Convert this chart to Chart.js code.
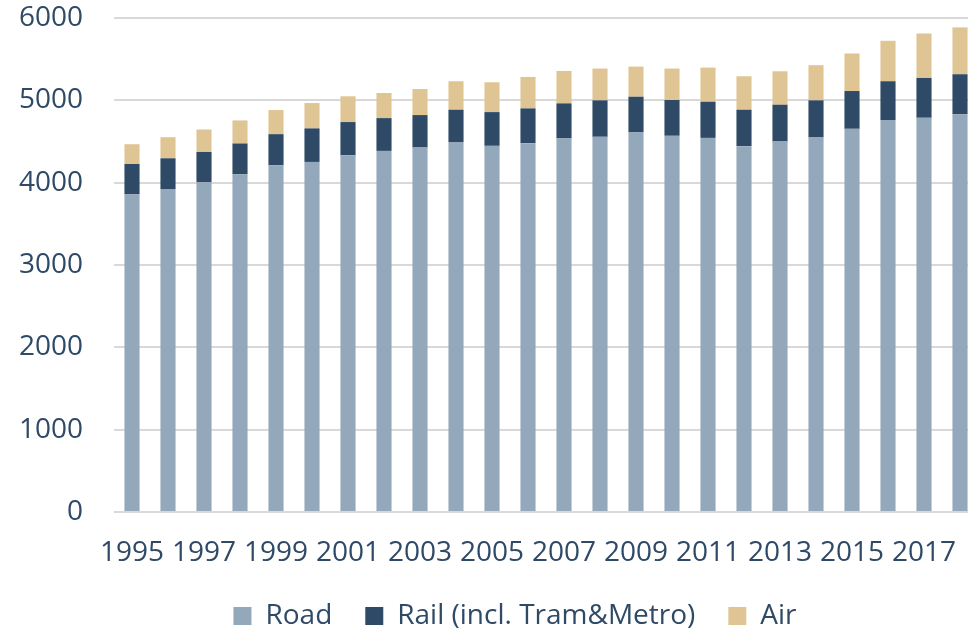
<!DOCTYPE html>
<html>
<head>
<meta charset="utf-8">
<script src="https://cdn.jsdelivr.net/npm/chart.js@4/dist/chart.umd.min.js"></script>
<style>
  html, body { margin: 0; padding: 0; background: #ffffff; overflow: hidden; }
  #wrap { width: 968px; height: 631px; overflow: hidden; position: relative; }
  #box { width: 1034px; height: 640px; position: absolute; left: 0; top: 0; }
</style>
</head>
<body>
<div id="wrap"><div id="box"><canvas id="c"></canvas></div></div>
<script>
const years = ['1995','1996','1997','1998','1999','2000','2001','2002','2003','2004','2005','2006','2007','2008','2009','2010','2011','2012','2013','2014','2015','2016','2017','2018'];
const road = [3857,3922,4004,4101,4211,4252,4333,4386,4427,4488,4447,4479,4537,4557,4610,4569,4544,4443,4500,4549,4654,4760,4788,4829];
const rail = [370,374,369,375,378,407,403,398,394,398,410,423,426,443,434,435,439,443,447,451,459,472,484,488];
const air  = [240,256,273,280,293,308,313,305,317,346,363,382,394,386,366,382,415,406,406,427,456,491,540,569];
const yTicks = [0,1000,2000,3000,4000,5000,6000];

const textColor = '#2f4a67';
const font = { family: '"Open Sans", sans-serif', size: 28 };

const shiftLegend = {
  id: 'shiftLegend',
  afterLayout(chart) {
    const lg = chart.legend;
    if (lg) { lg.left += 26; lg.right += 26; }
  }
};

new Chart(document.getElementById('c'), {
  type: 'bar',
  data: {
    labels: years,
    datasets: [
      { label: 'Road', data: road, backgroundColor: '#94a8bb' },
      { label: 'Rail (incl. Tram&Metro)', data: rail, backgroundColor: '#2e4a66' },
      { label: 'Air', data: air, backgroundColor: '#e0c594' }
    ]
  },
  plugins: [shiftLegend],
  options: {
    responsive: true,
    maintainAspectRatio: false,
    animation: false,
    layout: { padding: { top: 18, left: 0, right: 56, bottom: 0 } },
    datasets: { bar: { categoryPercentage: 1, barPercentage: 0.42 } },
    plugins: {
      tooltip: { enabled: false },
      legend: {
        position: 'bottom',
        labels: {
          color: textColor,
          font: font,
          boxWidth: 18,
          boxHeight: 18,
          padding: 33
        }
      }
    },
    scales: {
      x: {
        stacked: true,
        grid: { display: false, drawTicks: false },
        border: { display: false },
        ticks: {
          color: textColor,
          font: font,
          autoSkip: false,
          maxRotation: 0,
          padding: 24,
          callback: function(v, i) { return i % 2 === 0 ? years[i] : ''; }
        },
        afterFit: function(s) { s.height = 57; }
      },
      y: {
        stacked: true,
        min: 0,
        max: 6000,
        afterBuildTicks: function(s) { s.ticks = yTicks.map(v => ({ value: v })); },
        grid: { color: '#d9d9d9', lineWidth: 2, drawTicks: false },
        border: { display: false },
        ticks: { color: textColor, font: font, padding: 31, callback: function(v) { return String(v); } },
        afterFit: function(s) { s.width = 114; s.paddingTop = 0; s.paddingBottom = 0; }
      }
    }
  }
});
</script>
</body>
</html>
